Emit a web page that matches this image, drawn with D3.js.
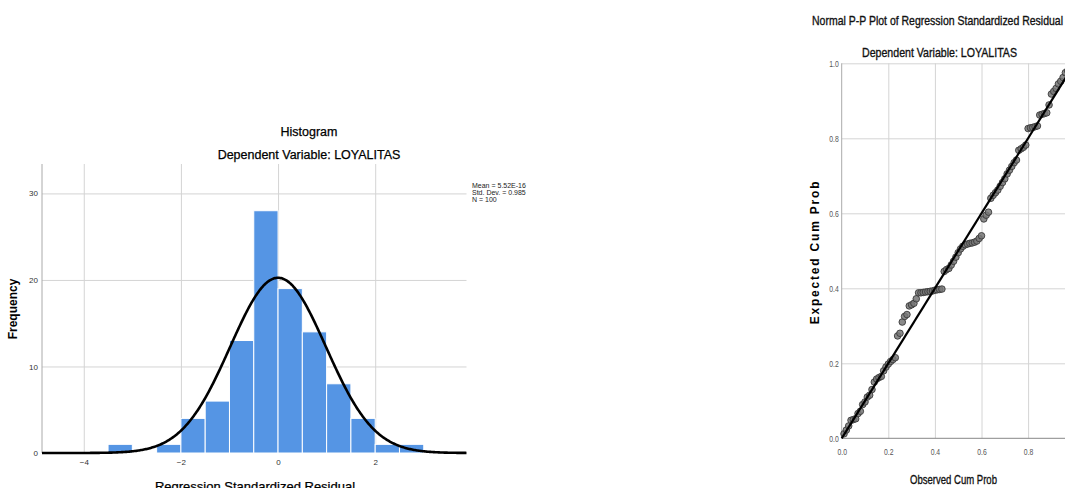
<!DOCTYPE html>
<html>
<head>
<meta charset="utf-8">
<script src="https://cdnjs.cloudflare.com/ajax/libs/d3/7.8.5/d3.min.js"></script>
<style>
	html, body { margin: 0; padding: 0; background: #fff; }
	svg { display: block; font-family: "Liberation Sans", Arial, sans-serif; }
</style>
</head>
<body>
<div id="chart"></div>
<script>
// ---- histogram data (regression standardized residuals) ----
var binLower = [-3.5, -2.5, -2.0, -1.5, -1.0, -0.5, 0.0, 0.5, 1.0, 1.5, 2.0, 2.5];
var binCounts = [1, 1, 4, 6, 13, 28, 19, 14, 8, 4, 1, 1];
var binWidth = 0.5;
var histXTicks = [-4, -2, 0, 2];
var histYTicks = [0, 10, 20, 30];
var residualMean = 5.52e-16;
var residualSd = 0.985;
var residualN = 100;
var statLines = ["Mean = 5.52E-16", "Std. Dev. = 0.985", "N = 100"];

// ---- P-P plot data (observed vs expected cumulative probability) ----
var observedCum = [
	0.01, 0.02, 0.03, 0.04, 0.05, 0.06, 0.07, 0.08, 0.09, 0.10,
	0.11, 0.12, 0.13, 0.14, 0.15, 0.16, 0.17, 0.18, 0.19, 0.20,
	0.21, 0.22, 0.23, 0.24, 0.25, 0.26, 0.27, 0.28, 0.29, 0.30,
	0.31, 0.32, 0.33, 0.34, 0.35, 0.36, 0.37, 0.38, 0.39, 0.40,
	0.41, 0.42, 0.43, 0.44, 0.45, 0.46, 0.47, 0.48, 0.49, 0.50,
	0.51, 0.52, 0.53, 0.54, 0.55, 0.56, 0.57, 0.58, 0.59, 0.60,
	0.61, 0.62, 0.63, 0.64, 0.65, 0.66, 0.67, 0.68, 0.69, 0.70,
	0.71, 0.72, 0.73, 0.74, 0.75, 0.76, 0.77, 0.78, 0.79, 0.80,
	0.81, 0.82, 0.83, 0.84, 0.85, 0.86, 0.87, 0.88, 0.89, 0.90,
	0.91, 0.92, 0.93, 0.94, 0.95, 0.96, 0.97, 0.98, 0.99, 1.00
];
var expectedCum = [
	0.012, 0.022, 0.033, 0.048, 0.050, 0.052, 0.066, 0.072, 0.090, 0.097,
	0.110, 0.115, 0.130, 0.150, 0.158, 0.162, 0.165, 0.180, 0.190, 0.198,
	0.205, 0.210, 0.215, 0.273, 0.280, 0.310, 0.325, 0.330, 0.353, 0.356,
	0.360, 0.372, 0.388, 0.388, 0.389, 0.390, 0.391, 0.392, 0.393, 0.395,
	0.396, 0.397, 0.398, 0.445, 0.450, 0.453, 0.462, 0.472, 0.483, 0.495,
	0.505, 0.512, 0.516, 0.518, 0.520, 0.521, 0.523, 0.526, 0.533, 0.540,
	0.585, 0.595, 0.603, 0.640, 0.648, 0.655, 0.662, 0.672, 0.682, 0.692,
	0.705, 0.715, 0.725, 0.735, 0.742, 0.768, 0.772, 0.776, 0.782, 0.826,
	0.828, 0.829, 0.831, 0.833, 0.862, 0.864, 0.866, 0.868, 0.889, 0.918,
	0.925, 0.933, 0.945, 0.952, 0.962, 0.975, 0.980, 0.985, 0.990, 0.996
];
var ppTicks = [0, 0.2, 0.4, 0.6, 0.8, 1.0];

var WIDTH = 1065, HEIGHT = 488;
var GRID = "#d4d4d4";

var svg = d3.select("#chart").append("svg")
	.attr("width", WIDTH)
	.attr("height", HEIGHT);

/**
 * Squeezes a text into given width (the P-P plot uses a condensed face)
 * @param {Selection} sel text selection
 * @param {Number} w target width
 */
function narrow(sel, w){
	sel.attr("textLength", w).attr("lengthAdjust", "spacingAndGlyphs");
}

/**
 * Renders the residual histogram with its normal curve
 */
function renderHistogram(){
	var g = svg.append("g");
	var x = d3.scaleLinear().domain([-4.86, 3.88]).range([42, 466.5]);
	var y = d3.scaleLinear().domain([0, 33.4]).range([453, 164]);

	// grid lines
	g.append("g")
		.attr("transform", "translate(0,453)")
		.call(d3.axisBottom(x).tickValues(histXTicks).tickSize(-289).tickFormat(""))
		.call(s => s.select(".domain").remove())
		.call(s => s.selectAll("line").attr("stroke", GRID));
	g.append("g")
		.attr("transform", "translate(42,0)")
		.call(d3.axisLeft(y).tickValues(histYTicks.slice(1)).tickSize(-424.5).tickFormat(""))
		.call(s => s.select(".domain").remove())
		.call(s => s.selectAll("line").attr("stroke", GRID));

	// bars
	g.selectAll("rect.bar")
		.data(binLower)
		.enter().append("rect")
		.attr("class", "bar")
		.attr("x", d => x(d))
		.attr("width", d => x(d + binWidth) - x(d))
		.attr("y", (d, i) => y(binCounts[i]))
		.attr("height", (d, i) => y(0) - y(binCounts[i]))
		.attr("fill", "#5595e4")
		.attr("stroke", "#fff")
		.attr("stroke-width", 1);

	// axes
	g.append("line")
		.attr("x1", 42).attr("x2", 42)
		.attr("y1", 164).attr("y2", 453)
		.attr("stroke", "#aaa");

	g.append("g")
		.attr("transform", "translate(0,453)")
		.call(d3.axisBottom(x).tickValues(histXTicks).tickSize(0).tickPadding(6))
		.call(s => s.select(".domain").remove())
		.call(s => s.selectAll("text").attr("font-size", 8).attr("font-family", "Liberation Sans, sans-serif").attr("fill", "#333"));

	g.append("g")
		.attr("transform", "translate(42,0)")
		.call(d3.axisLeft(y).tickValues(histYTicks).tickSize(0).tickPadding(4))
		.call(s => s.select(".domain").remove())
		.call(s => s.selectAll("text").attr("font-size", 8).attr("font-family", "Liberation Sans, sans-serif").attr("fill", "#333"));

	// normal curve scaled to the histogram
	var peak = residualN * binWidth / (residualSd * Math.sqrt(2 * Math.PI));
	var curve = d3.range(-4.86, 3.89, 0.02).map(v => [v, peak * Math.exp(-0.5 * Math.pow((v - residualMean) / residualSd, 2))]);
	g.append("path")
		.datum(curve)
		.attr("fill", "none")
		.attr("stroke", "#000")
		.attr("stroke-width", 2.6)
		.attr("d", d3.line().x(d => x(d[0])).y(d => y(d[1])));

	// titles
	g.append("text").text("Histogram")
		.attr("x", 309).attr("y", 136).attr("text-anchor", "middle").attr("font-size", 12.5)
		.attr("stroke", "#000").attr("stroke-width", 0.25);
	g.append("text").text("Dependent Variable: LOYALITAS")
		.attr("x", 309).attr("y", 158.5).attr("text-anchor", "middle").attr("font-size", 12.5)
		.attr("stroke", "#000").attr("stroke-width", 0.25);
	g.append("text").text("Frequency")
		.attr("transform", "translate(17,309) rotate(-90)")
		.attr("text-anchor", "middle").attr("font-size", 12).attr("font-weight", "bold");
	g.append("text").text("Regression Standardized Residual")
		.attr("x", 255).attr("y", 491).attr("text-anchor", "middle").attr("font-size", 13)
		.attr("stroke", "#000").attr("stroke-width", 0.25);

	// statistics box
	g.selectAll("text.stat")
		.data(statLines)
		.enter().append("text")
		.attr("class", "stat")
		.text(d => d)
		.attr("x", 472)
		.attr("y", (d, i) => 188 + i * 7)
		.attr("font-size", 7)
		.attr("fill", "#222");
}

/**
 * Renders the normal P-P plot
 */
function renderPPPlot(){
	var g = svg.append("g");
	var x = d3.scaleLinear().domain([0, 1]).range([841.7, 1074.7]);
	var y = d3.scaleLinear().domain([0, 1]).range([438.3, 63.3]);

	// grid lines
	g.append("g")
		.attr("transform", "translate(0,438.3)")
		.call(d3.axisBottom(x).tickValues(ppTicks.slice(1)).tickSize(-375).tickFormat(""))
		.call(s => s.select(".domain").remove())
		.call(s => s.selectAll("line").attr("stroke", GRID));
	g.append("g")
		.attr("transform", "translate(841.7,0)")
		.call(d3.axisLeft(y).tickValues(ppTicks.slice(1)).tickSize(-233).tickFormat(""))
		.call(s => s.select(".domain").remove())
		.call(s => s.selectAll("line").attr("stroke", GRID));

	g.append("line")
		.attr("x1", x(0)).attr("x2", x(0))
		.attr("y1", y(1)).attr("y2", y(0))
		.attr("stroke", "#aaa");
	g.append("line")
		.attr("x1", x(0)).attr("x2", x(1))
		.attr("y1", y(0)).attr("y2", y(0))
		.attr("stroke", "#888");

	g.append("g")
		.attr("transform", "translate(0,438.3)")
		.call(d3.axisBottom(x).tickValues(ppTicks).tickSize(0).tickPadding(10).tickFormat(d3.format(".1f")))
		.call(s => s.select(".domain").remove())
		.call(s => s.selectAll("text").attr("font-size", 9).attr("fill", "#555").call(narrow, 9.5));
	g.append("g")
		.attr("transform", "translate(841.7,0)")
		.call(d3.axisLeft(y).tickValues(ppTicks).tickSize(0).tickPadding(3).tickFormat(d3.format(".1f")))
		.call(s => s.select(".domain").remove())
		.call(s => s.selectAll("text").attr("font-size", 9).attr("fill", "#555").call(narrow, 9.5));

	// points
	g.selectAll("circle.pt")
		.data(observedCum)
		.enter().append("circle")
		.attr("class", "pt")
		.attr("cx", d => x(d))
		.attr("cy", (d, i) => y(expectedCum[i]))
		.attr("r", 3.3)
		.attr("fill", "#777")
		.attr("fill-opacity", 0.85)
		.attr("stroke", "#3a3a3a")
		.attr("stroke-width", 0.9);

	// reference diagonal
	g.append("line")
		.attr("x1", x(0)).attr("y1", y(0))
		.attr("x2", x(1)).attr("y2", y(1))
		.attr("stroke", "#000")
		.attr("stroke-width", 2.2);

	// titles
	g.append("text").text("Normal P-P Plot of Regression Standardized Residual")
		.attr("x", 812).attr("y", 25).attr("font-size", 13).attr("fill", "#111")
		.attr("stroke", "#111").attr("stroke-width", 0.35)
		.call(narrow, 251);
	g.append("text").text("Dependent Variable: LOYALITAS")
		.attr("x", 862).attr("y", 57).attr("font-size", 13).attr("fill", "#111")
		.attr("stroke", "#111").attr("stroke-width", 0.35)
		.call(narrow, 155);
	g.append("text").text("Expected Cum Prob")
		.attr("transform", "translate(819,252) rotate(-90)")
		.attr("text-anchor", "middle").attr("font-size", 12).attr("font-weight", "bold")
		.attr("letter-spacing", 1.8);
	g.append("text").text("Observed Cum Prob")
		.attr("x", 910).attr("y", 484).attr("font-size", 13.5).attr("fill", "#111")
		.attr("stroke", "#111").attr("stroke-width", 0.35)
		.call(narrow, 87);
}

renderHistogram();
renderPPPlot();
</script>
</body>
</html>
